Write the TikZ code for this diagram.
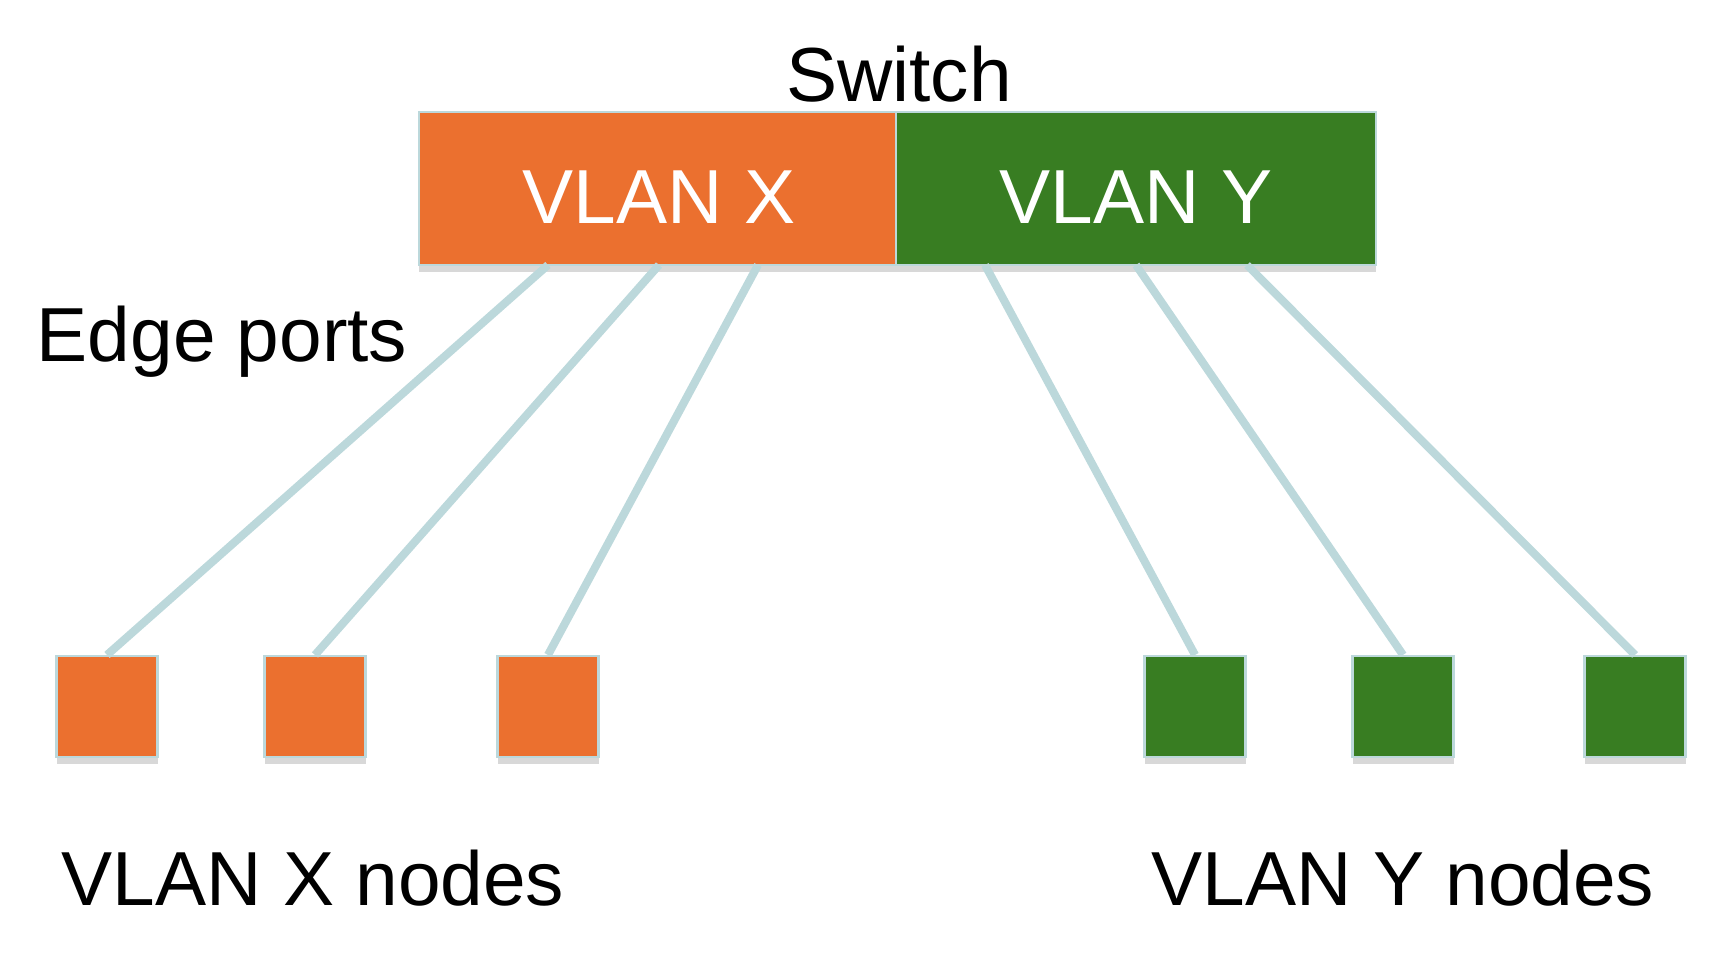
\documentclass[tikz,border=0pt]{standalone}
\usepackage{fontspec}
\setmainfont{Liberation Sans}
\usetikzlibrary{shadows}
\definecolor{vlanx}{HTML}{EB702F}
\definecolor{vlany}{HTML}{387D22}
\definecolor{wire}{HTML}{BCD8DB}
\begin{document}
\begin{tikzpicture}[
    txt/.style={font=\fontsize{21.8}{26}\selectfont, inner sep=0pt},
    part/.style={draw=wire, line width=0.6pt, inner sep=0pt,
        drop shadow={shadow xshift=0pt, shadow yshift=-2pt, fill=black!30, opacity=0.5}},
    link/.style={line width=2.3pt, color=wire}]
    \useasboundingbox (0,0) rectangle (17.30,9.60);

    % 1. Edge port links
    \coordinate (px1) at (5.48,6.95);
    \coordinate (px2) at (6.59,6.95);
    \coordinate (px3) at (7.58,6.95);
    \coordinate (py1) at (9.85,6.95);
    \coordinate (py2) at (11.36,6.95);
    \coordinate (py3) at (12.47,6.95);

    % 2. The switch, two halves
    \node[part, fill=vlanx, minimum width=4.77cm, minimum height=1.53cm] (vx) at (6.575,7.715) {};
    \node[part, fill=vlany, minimum width=4.80cm, minimum height=1.53cm] (vy) at (11.36,7.715) {};
    \node[txt, anchor=base, white] (vxt) at (6.59,7.37) {VLAN X};
    \node[txt, anchor=base, white] (vyt) at (11.36,7.37) {VLAN Y};
    \node[txt, anchor=base] (sw) at (8.99,8.585) {Switch};

    % 3. The end nodes
    \node[part, fill=vlanx, minimum size=1.01cm] (x1) at (1.07,2.535) {};
    \node[part, fill=vlanx, minimum size=1.01cm] (x2) at (3.15,2.535) {};
    \node[part, fill=vlanx, minimum size=1.01cm] (x3) at (5.48,2.535) {};
    \node[part, fill=vlany, minimum size=1.01cm] (y1) at (11.95,2.535) {};
    \node[part, fill=vlany, minimum size=1.01cm] (y2) at (14.03,2.535) {};
    \node[part, fill=vlany, minimum size=1.01cm] (y3) at (16.35,2.535) {};

    \draw[link] (px1) -- (x1.north);
    \draw[link] (px2) -- (x2.north);
    \draw[link] (px3) -- (x3.north);
    \draw[link] (py1) -- (y1.north);
    \draw[link] (py2) -- (y2.north);
    \draw[link] (py3) -- (y3.north);

    % 4. Labels
    \node[txt, anchor=base west] (ep) at (0.36,5.99) {Edge ports};
    \node[txt, anchor=base west] (xn) at (0.61,0.55) {VLAN X nodes};
    \node[txt, anchor=base west] (yn) at (11.51,0.55) {VLAN Y nodes};
\end{tikzpicture}
\end{document}
